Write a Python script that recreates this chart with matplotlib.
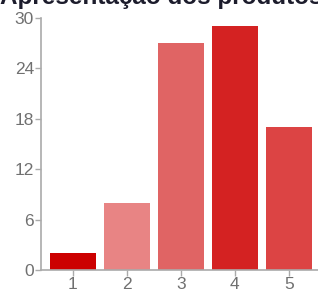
import matplotlib.pyplot as plt

plt.rcParams['font.family'] = ['Liberation Sans', 'DejaVu Sans']

categories = ['1', '2', '3', '4', '5']
values = [2, 8, 27, 29, 17]
colors = ['#cc0000', '#e88484', '#e06464', '#d42222', '#dc4444']
title = 'Apresentação dos produtos'

W, H = 318, 296
fig = plt.figure(figsize=(W / 100, H / 100), dpi=100)
ax = fig.add_axes([41 / W, 26 / H, 1 - 41 / W, 252 / H])

pos = list(range(1, len(categories) + 1))
ax.bar(pos, values, width=0.85, color=colors, zorder=2)

ax.set_xlim(0.41, 5.54)
ax.set_ylim(0, 30)
ax.set_yticks([0, 6, 12, 18, 24, 30])
ax.set_xticks(pos)
ax.set_xticklabels(categories)

for s in ['top', 'right']:
    ax.spines[s].set_visible(False)
for s in ['left', 'bottom']:
    ax.spines[s].set_color('#aaaaaa')
    ax.spines[s].set_linewidth(1.2)
ax.tick_params(colors='#aaaaaa', labelcolor='#707070', labelsize=12.5, length=4, width=1)
ax.tick_params(axis='y', pad=1)
ax.tick_params(axis='x', pad=1)

fig.text(0.0, 1 - 4 / H, title, fontsize=17.5, fontweight='bold', color='#1c1c2c',
         va='baseline', ha='left')

fig.savefig('out.png', dpi=100)
